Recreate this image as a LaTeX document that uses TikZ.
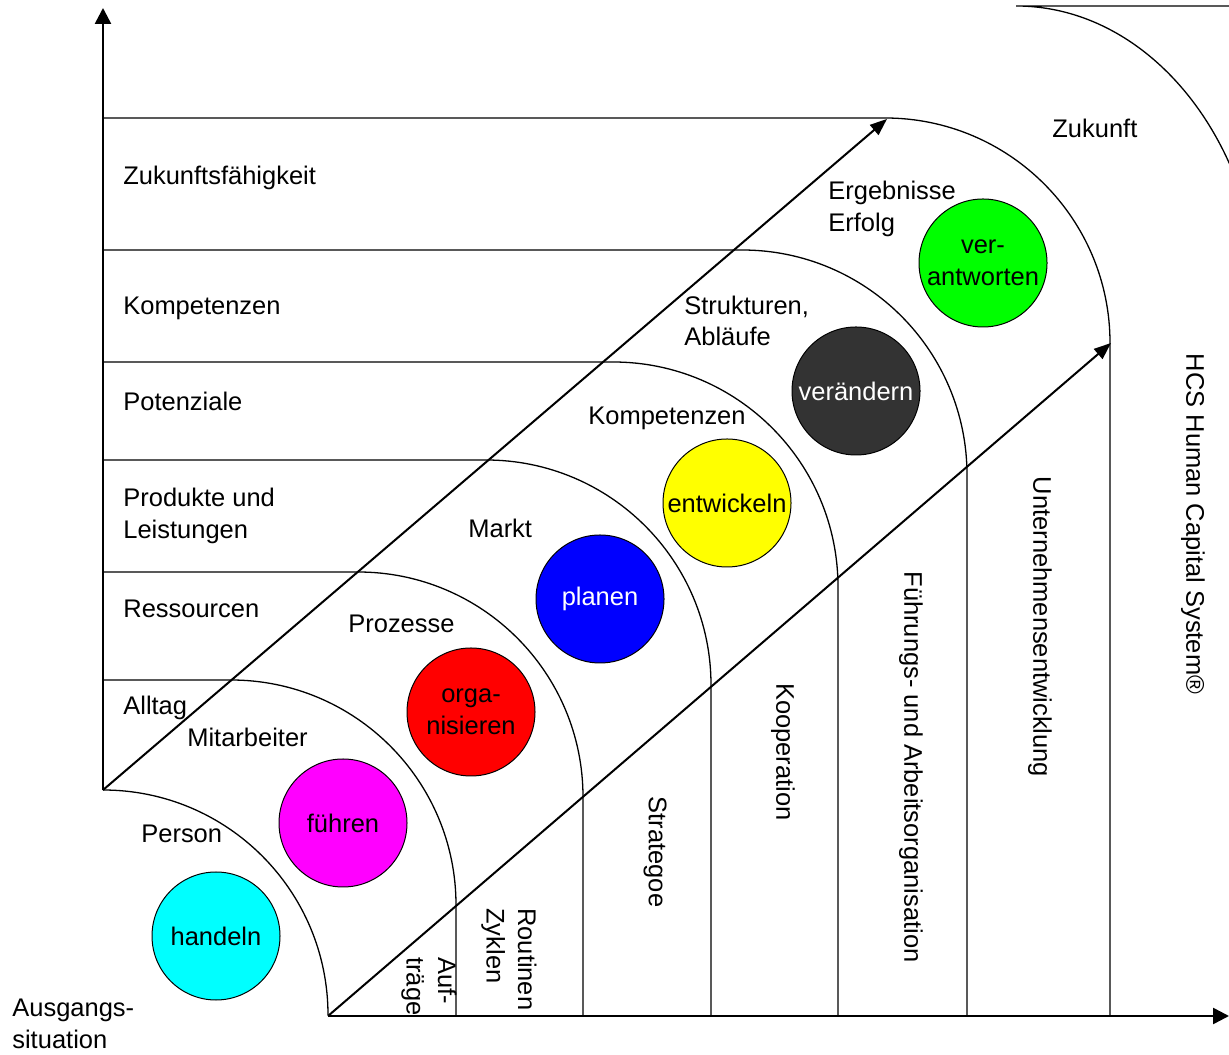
\documentclass[tikz,border=0pt]{standalone}
\usepackage{fontspec}
\setmainfont{Liberation Sans}
\usetikzlibrary{arrows.meta}

\definecolor{ballcyan}{RGB}{0,255,255}
\definecolor{ballmagenta}{RGB}{255,0,255}
\definecolor{ballred}{RGB}{255,0,0}
\definecolor{ballblue}{RGB}{0,0,255}
\definecolor{ballyellow}{RGB}{255,255,0}
\definecolor{ballgray}{RGB}{51,51,51}
\definecolor{ballgreen}{RGB}{0,255,0}

\begin{document}
\begin{tikzpicture}[x=0.2mm, y=0.2mm,
        every node/.style={inner sep=0pt, font=\fontsize{14.5}{18}\selectfont},
        lbl/.style={anchor=base west},
        lbltwo/.style={anchor=west, align=left},
        side/.style={rotate=-90},
        sidetwo/.style={rotate=-90, anchor=north west, align=left},
        ball/.style={circle, draw, line width=0.2mm, minimum size=25.6mm, align=center},
        shell/.style={line width=0.26mm},
        axis/.style={line width=0.5mm, arrows = -{Triangle[length=3.2mm, width=3.2mm]}},
        diag/.style={line width=0.4mm, arrows = -{Triangle[length=3.4mm, width=2.6mm]}}]

        \useasboundingbox (0,0) rectangle (1229,1054);
        \clip (0,0) rectangle (1229,1054);

        % \draw [help lines, step=50] (0,0) grid (1229,1054);

        \path   (103,264)  coordinate (o1)
                (103,1046) coordinate (ytip)
                (328,38)   coordinate (o2)
                (1229,38)  coordinate (xtip)
                (887,935)  coordinate (d1tip)
                (1111,711) coordinate (d2tip);

        % shells
        \draw[shell] (o1) arc[start angle=90, end angle=0, radius=225];
        \foreach \v/\h in {456/374, 583/482, 711/594, 838/692, 967/804, 1110/936}
            \draw[shell] (103,\h) -- (\v-225,\h) arc[start angle=90, end angle=0, radius=225] -- (\v,38);
        \draw[shell] (1229,1048) -- (1016,1048) arc[start angle=90, end angle=0, x radius=245, y radius=310];

        \draw[axis] (o1) -- (ytip);
        \draw[axis] (o2) -- (xtip);
        \draw[diag] (o1) -- (d1tip);
        \draw[diag] (o2) -- (d2tip);

        \path   (216,118) node (handeln)      [ball, fill=ballcyan] {handeln}
                (343,231) node (fuehren)      [ball, fill=ballmagenta] {führen}
                (471,342) node (organisieren) [ball, fill=ballred] {orga-\\nisieren}
                (600,455) node (planen)       [ball, fill=ballblue, text=white] {planen}
                (727,551) node (entwickeln)   [ball, fill=ballyellow] {entwickeln}
                (856,663) node (veraendern)   [ball, fill=ballgray, text=white] {verändern}
                (983,791) node (verantworten) [ball, fill=ballgreen] {ver-\\antworten};

        \path   (123,869)  node (zukunftsf)   [lbl] {Zukunftsfähigkeit}
                (123,739)  node (kompetenzen) [lbl] {Kompetenzen}
                (123,643)  node (potenziale)  [lbl] {Potenziale}
                (123,538)  node (produkte)    [lbltwo] {Produkte und\\Leistungen}
                (123,436)  node (ressourcen)  [lbl] {Ressourcen}
                (123,339)  node (alltag)      [lbl] {Alltag}
                (187,307)  node (mitarbeiter) [lbl] {Mitarbeiter}
                (141,211)  node (person)      [lbl] {Person}
                (348,421)  node (prozesse)    [lbl] {Prozesse}
                (468,516)  node (markt)       [lbl] {Markt}
                (588,629)  node (kompetenzenB) [lbl] {Kompetenzen}
                (684,733)  node (strukturen)  [lbltwo] {Strukturen,\\Abläufe}
                (828,845)  node (ergebnisse)  [lbltwo] {Ergebnisse\\Erfolg}
                (1052,916) node (zukunft)     [lbl] {Zukunft}
                (12,30)    node (ausgang)     [lbltwo] {Ausgangs-\\situation};

        \path   (457,97)   node (auftraege)   [sidetwo] {Auf-\\träge}
                (537,146)  node (routinen)    [sidetwo] {Routinen\\Zyklen}
                (655,202)  node (strategoe)   [side] {Strategoe}
                (783,302)  node (kooperation) [side] {Kooperation}
                (911,287)  node (fuehrungs)   [side] {Führungs- und Arbeitsorganisation}
                (1040,427) node (unternehmen) [side] {Unternehmensentwicklung}
                (1193,530) node (hcs)         [side] {HCS Human Capital System®};

\end{tikzpicture}
\end{document}
